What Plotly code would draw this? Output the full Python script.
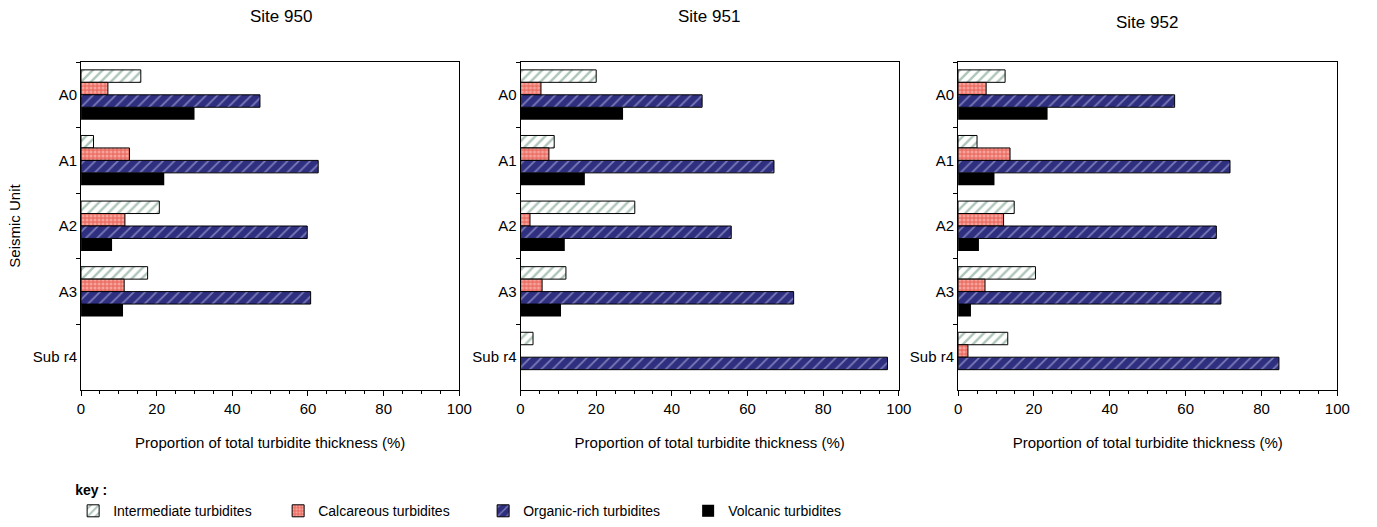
import plotly.graph_objects as go

# Seismic units (top to bottom) and turbidite classes
units = ["A0", "A1", "A2", "A3", "Sub r4"]
sites = ["Site 950", "Site 951", "Site 952"]
classes = ["Intermediate turbidites", "Calcareous turbidites",
           "Organic-rich turbidites", "Volcanic turbidites"]

# Proportion of total turbidite thickness (%) per site, unit order as above
intermediate_950 = [15.8, 3.3, 20.7, 17.6, None]
calcareous_950 = [7.1, 12.8, 11.6, 11.4, None]
organic_950 = [47.3, 62.7, 59.8, 60.7, None]
volcanic_950 = [30.0, 22.0, 8.2, 11.1, None]

intermediate_951 = [20.0, 8.9, 30.2, 12.0, 3.3]
calcareous_951 = [5.4, 7.5, 2.5, 5.7, None]
organic_951 = [48.0, 67.0, 55.7, 72.2, 97.0]
volcanic_951 = [27.1, 17.0, 11.7, 10.7, None]

intermediate_952 = [12.4, 5.0, 14.8, 20.4, 13.1]
calcareous_952 = [7.4, 13.7, 12.0, 7.1, 2.6]
organic_952 = [57.1, 71.7, 68.1, 69.3, 84.6]
volcanic_952 = [23.6, 9.6, 5.5, 3.4, None]

site_data = [
    [intermediate_950, calcareous_950, organic_950, volcanic_950],
    [intermediate_951, calcareous_951, organic_951, volcanic_951],
    [intermediate_952, calcareous_952, organic_952, volcanic_952],
]

x_ticks = [0, 20, 40, 60, 80, 100]

# Fill style of each turbidite class
styles = [
    dict(color="white", line=dict(color="black", width=1),
         pattern=dict(shape="/", fgcolor="#5e8c74", bgcolor="white", size=7, solidity=0.35)),
    dict(color="#ef7d72", line=dict(color="black", width=1),
         pattern=dict(shape=".", fgcolor="#fcd9d4", bgcolor="#ec6f64", size=4, solidity=0.45)),
    dict(color="#2f2f80", line=dict(color="black", width=1),
         pattern=dict(shape="/", fgcolor="#c9c9f2", bgcolor="#2f2f80", size=8, solidity=0.22)),
    dict(color="black", line=dict(color="black", width=0)),
]

FONT = "Liberation Sans, Arial, sans-serif"
W, H = 1377, 527

x_domains = [(78 / W, 461 / W), (523 / W, 906 / W), (966 / W, 1350 / W)]
y_domain = (1 - 390 / H, 1 - 62 / H)

fig = go.Figure()

for i, series in enumerate(site_data):
    ax = "" if i == 0 else str(i + 1)
    for k, (name, vals) in enumerate(zip(classes, series)):
        fig.add_trace(go.Bar(
            x=vals, y=units, orientation="h", name=name,
            marker=styles[k], legendgroup=name, showlegend=(i == 0),
            xaxis="x" + ax, yaxis="y" + ax,
        ))

    fig.layout["xaxis" + ax] = dict(
        domain=x_domains[i], anchor="y" + ax, range=[0, 100],
        tickvals=x_ticks, ticks="outside", ticklen=5, tickwidth=1, tickcolor="black",
        minor=dict(dtick=5, ticks="outside", ticklen=3, tickcolor="black"),
        showline=True, linecolor="black", linewidth=1, mirror=True,
        showgrid=False, zeroline=False,
        tickfont=dict(family=FONT, size=15, color="black"),
        title=dict(text="Proportion of total turbidite thickness (%)",
                   font=dict(family=FONT, size=15, color="black"), standoff=21),
    )
    fig.layout["yaxis" + ax] = dict(
        domain=y_domain, anchor="x" + ax, type="category",
        categoryorder="array", categoryarray=units, autorange="reversed",
        tickson="boundaries", ticks="outside", ticklen=4, tickcolor="black",
        showline=True, linecolor="black", linewidth=1, mirror=True,
        showgrid=False, zeroline=False,
        tickfont=dict(family=FONT, size=15, color="black"),
    )

fig.layout.yaxis.title = dict(text="Seismic Unit", font=dict(family=FONT, size=15, color="black"),
                              standoff=8)

# Site titles above each panel
title_pos = [(280, 17), (714, 17), (1157, 22)]
for name, (px, py) in zip(sites, title_pos):
    fig.add_annotation(text=name, x=px / W, y=1 - py / H, xref="paper", yref="paper",
                       showarrow=False, xanchor="center", yanchor="middle",
                       font=dict(family=FONT, size=17, color="black"))

fig.update_layout(
    width=W, height=H, margin=dict(l=0, r=0, t=0, b=0),
    paper_bgcolor="white", plot_bgcolor="white",
    barmode="group", bargap=0.24, bargroupgap=0,
    showlegend=True,
    legend=dict(orientation="h", x=70 / W, y=1 - 477 / H, xanchor="left", yanchor="top",
                entrywidth=160, entrywidthmode="pixels",
                font=dict(family=FONT, size=14, color="black"),
                title=dict(text="<b>key :</b>", side="top",
                           font=dict(family=FONT, size=14, color="black")),
                traceorder="normal", itemclick=False),
)

fig.write_html("out.html")
